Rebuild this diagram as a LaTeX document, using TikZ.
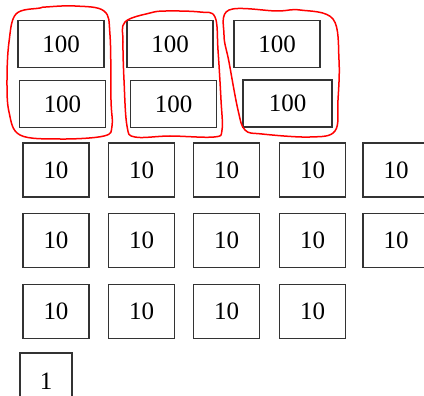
\documentclass[tikz,border=0pt]{standalone}
\usepackage{fontspec}
\setmainfont{Liberation Serif}
\begin{document}
\begin{tikzpicture}[x=1pt,y=-1pt,
    coin/.style={draw=black!80,line width=1.8pt,inner sep=0pt,
      font=\fontsize{25}{29}\selectfont},
    hund/.style={coin,minimum width=86pt,minimum height=47pt},
    ten/.style={coin,minimum width=66pt,minimum height=54pt},
    loop/.style={red,line width=1.5pt}]
  \useasboundingbox (0,0) rectangle (424,396);
  % hundreds
  \node[hund] (h1) at (61,44) {100};
  \node[hund] (h2) at (170,44) {100};
  \node[hund] (h3) at (277,44) {100};
  \node[hund] (h4) at (62.5,104) {100};
  \node[hund] (h5) at (173.5,104) {100};
  \node[hund,minimum width=89pt] (h6) at (287.5,103.5) {100};
  % tens
  \foreach \r/\y in {1/170,2/240.5} {
    \foreach \c/\x in {1/56,2/141.5,3/226.5,4/312.5,5/396}
      \node[ten] (t\r\c) at (\x,\y) {10};
  }
  \foreach \c/\x in {1/56,2/141.5,3/226.5,4/312.5}
    \node[ten] (t3\c) at (\x,311.5) {10};
  % one
  \node[coin,minimum width=52pt,minimum height=56pt] (u1) at (46,381) {1};
  % groups
  \draw[loop] plot[smooth cycle,tension=0.6] coordinates {
    (16,14) (40,8) (46,7) (75,6) (104,11) (110,35) (111,100) (112,126)
    (104,136) (60,139) (20,135) (9,112) (7,80) (9,42)};
  \draw[loop] plot[smooth cycle,tension=0.6] coordinates {
    (125,22) (150,13) (166,11) (200,12) (215,17) (218,50)
    (221,100) (222,130) (214,137) (170,136) (135,137) (127,126) (124,80) (123,42)};
  \draw[loop] plot[smooth cycle,tension=0.6] coordinates {
    (229,10) (277,11) (300,10) (333,19) (339,60) (338,100)
    (335,131) (310,137) (262,134) (245,130) (238,110) (229,62) (224,35)};
\end{tikzpicture}
\end{document}
